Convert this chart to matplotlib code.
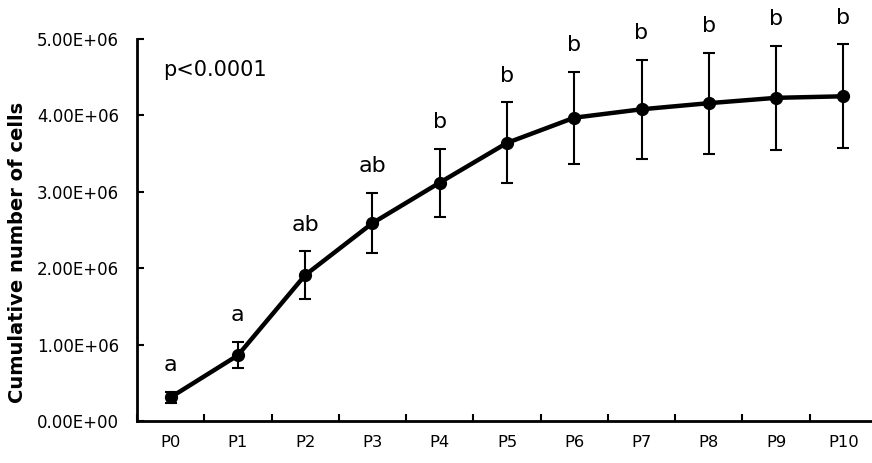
import matplotlib
matplotlib.use("Agg")
import matplotlib.pyplot as plt
from matplotlib.ticker import FixedLocator, FuncFormatter
import numpy as np

passages = ["P0", "P1", "P2", "P3", "P4", "P5", "P6", "P7", "P8", "P9", "P10"]
cumulative_cells = [0.31e6, 0.86e6, 1.91e6, 2.59e6, 3.12e6, 3.64e6,
                    3.97e6, 4.08e6, 4.16e6, 4.23e6, 4.25e6]
sd_cells = [0.07e6, 0.17e6, 0.31e6, 0.39e6, 0.445e6, 0.53e6,
            0.60e6, 0.65e6, 0.66e6, 0.68e6, 0.68e6]
group_letters = ["a", "a", "ab", "ab", "b", "b", "b", "b", "b", "b", "b"]
y_ticks = [0, 1e6, 2e6, 3e6, 4e6, 5e6]
p_text = "p<0.0001"

W, H = 872, 463
fig = plt.figure(figsize=(W / 100, H / 100), dpi=100)
left, right, bottom, top = 137, 877, 421, 39
ax = fig.add_axes([left / W, (H - bottom) / H, (right - left) / W, (bottom - top) / H])

x = np.arange(len(passages))
ax.errorbar(x, cumulative_cells, yerr=sd_cells, color="black", lw=3.2,
            marker="o", ms=8.5, ecolor="black", elinewidth=1.5,
            capsize=4.5, capthick=1.5, zorder=3)

for xi, v, e, lab in zip(x, cumulative_cells, sd_cells, group_letters):
    ax.annotate(lab, (xi, v + e), xytext=(0, 15), textcoords="offset points",
                ha="center", va="baseline", fontsize=16)

ax.text(-0.11, 4.6e6, p_text, fontsize=15, ha="left", va="center")

ax.set_xlim(-0.5, len(passages) - 0.5)
ax.set_ylim(0, 5e6)
ax.set_xticks(x)
ax.set_xticklabels(passages)
ax.xaxis.set_minor_locator(FixedLocator(np.arange(-0.5, len(passages), 1.0)))
ax.tick_params(axis="x", which="major", length=0, pad=10, labelsize=11.8)
ax.tick_params(axis="x", which="minor", direction="in", length=5, width=1.5)

ax.set_yticks(y_ticks)
ax.yaxis.set_major_formatter(FuncFormatter(lambda v, _: f"{v:.2E}"))
ax.tick_params(axis="y", direction="in", length=5, width=1.5, pad=13, labelsize=12)

for side in ("top", "right"):
    ax.spines[side].set_visible(False)
for side in ("left", "bottom"):
    ax.spines[side].set_linewidth(2)

fig.text(18 / W, 1 - 252 / H, "Cumulative number of cells", rotation=90,
         fontsize=14, fontweight="bold", ha="center", va="center")

fig.savefig("out.png", dpi=100)
